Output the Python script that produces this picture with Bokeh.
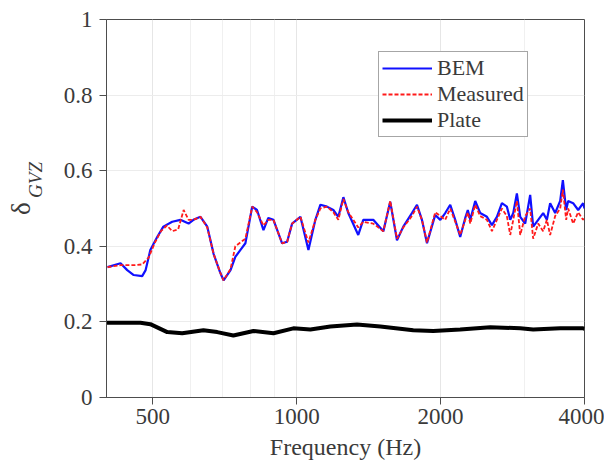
from bokeh.plotting import figure
from bokeh.models import (Range1d, FixedTicker, CustomJSTickFormatter, Legend,
                          LegendItem, LinearAxis)
from bokeh.embed import file_html
from bokeh.resources import INLINE

# ---- data ----
bem_freq = [402, 428, 442, 456, 475, 483, 494, 511, 526, 549, 571, 594, 608, 629,
            650, 670, 692, 703, 727, 744, 762, 781, 807, 826, 852, 872, 894, 932,
            955, 978, 1018, 1058, 1094, 1121, 1157, 1193, 1222, 1252, 1282, 1345,
            1378, 1446, 1518, 1569, 1621, 1671, 1742, 1785, 1828, 1873, 1949, 1997,
            2045, 2095, 2146, 2198, 2252, 2280, 2307, 2363, 2420, 2500, 2561, 2623,
            2687, 2752, 2797, 2838, 2888, 2935, 3006, 3079, 3124, 3200, 3278, 3337,
            3390, 3473, 3558, 3604, 3662, 3697, 3787, 3880, 3974, 4000]
bem_val = [0.345, 0.355, 0.337, 0.324, 0.321, 0.337, 0.39, 0.425, 0.452, 0.465, 0.47,
           0.46, 0.47, 0.478, 0.452, 0.38, 0.33, 0.31, 0.337, 0.372, 0.39, 0.408,
           0.505, 0.496, 0.443, 0.475, 0.47, 0.408, 0.412, 0.46, 0.478, 0.39, 0.47,
           0.51, 0.505, 0.496, 0.478, 0.53, 0.488, 0.43, 0.47, 0.47, 0.44, 0.518,
           0.416, 0.452, 0.488, 0.51, 0.47, 0.408, 0.483, 0.47, 0.488, 0.51, 0.47,
           0.425, 0.475, 0.496, 0.47, 0.52, 0.488, 0.478, 0.456, 0.478, 0.514, 0.505,
           0.47, 0.488, 0.54, 0.478, 0.46, 0.536, 0.452, 0.47, 0.488, 0.47, 0.514,
           0.488, 0.52, 0.575, 0.496, 0.52, 0.514, 0.496, 0.514, 0.50]

meas_freq = [402, 428, 456, 475, 490, 505, 520, 535, 549, 565, 580, 594, 608, 629,
             650, 670, 692, 703, 727, 744, 762, 781, 807, 826, 852, 872, 894, 932,
             955, 978, 1018, 1058, 1094, 1121, 1157, 1193, 1222, 1252, 1282, 1345,
             1378, 1446, 1518, 1569, 1621, 1671, 1742, 1785, 1828, 1873, 1949, 1997,
             2045, 2095, 2146, 2198, 2252, 2280, 2307, 2363, 2420, 2500, 2561, 2623,
             2687, 2752, 2797, 2838, 2888, 2935, 3006, 3079, 3124, 3200, 3278, 3337,
             3390, 3473, 3558, 3604, 3662, 3697, 3787, 3880, 3974, 4000]
meas_val = [0.345, 0.35, 0.35, 0.352, 0.37, 0.41, 0.44, 0.455, 0.44, 0.445, 0.496,
            0.47, 0.47, 0.478, 0.45, 0.38, 0.33, 0.31, 0.34, 0.40, 0.41, 0.42, 0.505,
            0.49, 0.455, 0.47, 0.47, 0.408, 0.412, 0.46, 0.478, 0.41, 0.47, 0.50,
            0.505, 0.49, 0.47, 0.525, 0.49, 0.45, 0.465, 0.46, 0.44, 0.52, 0.42, 0.45,
            0.48, 0.505, 0.47, 0.41, 0.49, 0.48, 0.47, 0.50, 0.465, 0.43, 0.47, 0.49,
            0.46, 0.51, 0.48, 0.47, 0.44, 0.47, 0.50, 0.48, 0.43, 0.47, 0.52, 0.43,
            0.48, 0.50, 0.42, 0.46, 0.44, 0.47, 0.43, 0.48, 0.50, 0.55, 0.47, 0.50,
            0.46, 0.49, 0.47, 0.48]

plate_freq = [401, 471, 494, 536, 576, 638, 682, 737, 812, 894, 984, 1068, 1176,
              1337, 1496, 1753, 1930, 2198, 2540, 2935, 3124, 3558, 3974, 4000]
plate_val = [0.198, 0.198, 0.194, 0.173, 0.17, 0.178, 0.173, 0.164, 0.176, 0.17,
             0.183, 0.18, 0.188, 0.193, 0.188, 0.178, 0.176, 0.18, 0.186, 0.183,
             0.18, 0.183, 0.183, 0.182]

x_ticks = [500, 1000, 2000, 4000]
x_minor = [400, 600, 700, 800, 900, 3000]
y_ticks = [0, 0.2, 0.4, 0.6, 0.8, 1]

FONT = "Liberation Serif"
AX = "#4d4d4d"
TXT = "#3a3a3a"

p = figure(width=604, height=462, x_axis_type="log", output_backend="svg",
           toolbar_location=None, x_range=Range1d(400, 4000), y_range=Range1d(0, 1),
           min_border_left=106, min_border_right=20, min_border_top=19,
           min_border_bottom=65)
p.background_fill_color = "white"
p.border_fill_color = "white"
p.outline_line_color = AX
p.outline_line_width = 1

p.xaxis.ticker = FixedTicker(ticks=x_ticks, minor_ticks=x_minor)
p.yaxis.ticker = FixedTicker(ticks=y_ticks)
p.xaxis.formatter = CustomJSTickFormatter(code="return String(Math.round(tick));")
p.yaxis.formatter = CustomJSTickFormatter(code="return String(Math.round(tick*10)/10);")

for ax in (p.xaxis[0], p.yaxis[0]):
    ax.axis_line_color = AX
    ax.major_tick_line_color = AX
    ax.major_tick_out = 7
    ax.major_tick_in = 0
    ax.minor_tick_line_color = None
    ax.major_label_text_font = FONT
    ax.major_label_text_font_size = "23px"
    ax.major_label_text_color = TXT
    ax.axis_label_text_font = FONT
    ax.axis_label_text_font_size = "24px"
    ax.axis_label_text_font_style = "normal"
    ax.axis_label_text_color = TXT

p.xaxis.axis_label = "Frequency (Hz)"
p.xaxis.major_label_standoff = 4
p.xaxis.axis_label_standoff = 7
p.yaxis.major_label_standoff = 7

# y label: italic subscript "GVZ" on the main y axis (shifted with leading
# spaces), and "δ" on an extra label-only axis further left
p.yaxis.axis_label = "\u2002\u2002\u2002\u2002\u2002\u2002GVZ"
p.yaxis.axis_label_text_font_size = "19px"
p.yaxis.axis_label_text_font_style = "italic"
p.yaxis.axis_label_standoff = 15

delta_axis = LinearAxis(ticker=FixedTicker(ticks=[]), axis_label="δ",
                        axis_line_color=None, major_tick_line_color=None,
                        minor_tick_line_color=None, major_tick_out=0,
                        major_tick_in=0, minor_tick_out=0,
                        axis_label_standoff=-14,
                        axis_label_text_font=FONT,
                        axis_label_text_font_size="27px",
                        axis_label_text_font_style="normal",
                        axis_label_text_color=TXT)
p.add_layout(delta_axis, "left")

p.xgrid.grid_line_color = "#e6e6e6"
p.xgrid.minor_grid_line_color = "#f0f0f0"
p.ygrid.grid_line_color = "#ececec"

r_bem = p.line(bem_freq, bem_val, line_color="#1010ff", line_width=2.2)
r_meas = p.line(meas_freq, meas_val, line_color="#ff1a1a", line_width=1.8,
                line_dash="4 2")
r_plate = p.line(plate_freq, plate_val, line_color="black", line_width=4)

legend = Legend(items=[LegendItem(label="BEM", renderers=[r_bem]),
                       LegendItem(label="Measured", renderers=[r_meas]),
                       LegendItem(label="Plate", renderers=[r_plate])],
                location=(272, 260))
legend.label_text_font = FONT
legend.label_text_font_size = "22px"
legend.label_text_color = TXT
legend.glyph_width = 50
legend.glyph_height = 22
legend.label_height = 22
legend.label_standoff = 5
legend.spacing = 0
legend.padding = 3
legend.margin = 0
legend.border_line_color = AX
legend.border_line_width = 1
legend.background_fill_alpha = 1
p.add_layout(legend)

open("out.html", "w").write(file_html(p, INLINE))
